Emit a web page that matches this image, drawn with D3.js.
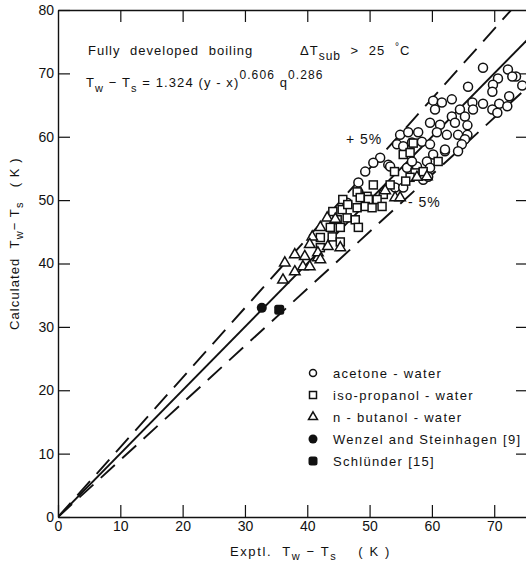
<!DOCTYPE html>
<html>
<head>
<meta charset="utf-8">
<script src="https://cdn.jsdelivr.net/npm/d3@7"></script>
<style>
  body { margin: 0; background: #fff; }
  svg text { font-family: "Liberation Sans", "DejaVu Sans", sans-serif; fill: #111; }
</style>
</head>
<body>
<svg id="chart" width="526" height="564"></svg>
<script>
// values, [exptl, calculated] in K
var acetone = [
  [73.5,69.5],[68.2,70.9],[72.2,70.6],[72.9,69.5],[74.5,68.1],[70.6,69.2],[69.8,68.2],
  [65.8,67.9],[69.7,67.1],[72.4,66.4],[70.8,65.2],[72.1,64.8],[69.7,64.3],[70.5,63.8],
  [68.2,65.2],[60.2,65.7],[61.6,65.4],[63.2,65.9],[60.5,64.3],[64.5,64.3],[66.5,65.4],
  [66.6,64.3],[65.3,63.2],[63.2,63.2],[59.7,62.2],[61.3,61.9],[63.7,62.2],[65.7,61.8],
  [60.8,60.7],[62.4,60.3],[64.2,60.3],[65.7,60.3],[65.3,59.6],[64.8,58.8],[62.1,57.7],
  [64.2,57.7],[54.9,60.3],[56.2,60.7],[57.8,60.7],[54.4,58.8],[55.4,58.5],[56.8,59.1],
  [58.4,59.2],[59.7,58.8],[62.1,58.0],[51.7,56.7],[50.6,55.9],[53.0,55.6],[49.3,54.5],
  [60.2,57.2],[59.2,56.1],[57.6,55.3],[56.0,55.1],[58.6,53.2],[59.4,53.7],[48.2,52.8],
  [54.1,52.0],[55.4,52.0],[53.3,55.3],[56.8,56.1],[59.7,55.1],[46.4,49.6],[48.2,51.3]
];
var isoPropanol = [
  [55.4,57.2],[56.5,57.5],[61.0,56.1],[57.3,54.3],[58.6,54.5],[56.5,53.6],[50.6,52.4],
  [53.3,52.4],[48.0,51.3],[49.6,50.6],[52.2,50.9],[51.2,50.1],[45.7,50.1],[48.5,50.4],
  [49.8,50.1],[44.1,48.2],[45.6,48.5],[46.5,49.3],[48.0,48.8],[49.3,49.0],[50.4,48.8],
  [44.8,46.9],[46.4,47.2],[47.7,46.9],[48.2,45.7],[43.7,45.7],[45.3,45.7],[42.1,44.1],
  [44.0,44.2],[45.3,43.4],[42.1,42.5],[54.0,54.5],[57.0,59.0],[55.8,53.0],[52.0,49.0]
];
var nButanol = [
  [54.1,50.4],[54.9,50.4],[59.2,53.7],[57.6,53.6],[43.2,47.2],[42.1,45.7],[40.8,44.2],
  [40.4,43.0],[43.3,42.7],[45.3,42.5],[39.6,41.1],[41.7,40.9],[39.3,39.5],[36.4,40.1],
  [38.0,41.4],[40.4,39.5],[38.0,38.7],[36.1,37.4],[41.7,41.7],[42.1,40.6],[44.5,47.0],
  [52.5,51.5]
];
var wenzel = [[32.7,33.0]];
var schlunder = [[35.5,32.7]];

// lines: calculated = factor * exptl
var lineFactors = [1.0, 1.1, 0.9];
var xTicks = [0,10,20,30,40,50,60,70];
var yTicks = [0,10,20,30,40,50,60,70,80];
var legendLabels = ["acetone - water", "iso-propanol - water", "n - butanol - water",
                    "Wenzel and Steinhagen [9]", "Schlünder [15]"];

var svg = d3.select("#chart");
var x = d3.scaleLinear().domain([0, 75.1]).range([58, 526]);
var y = d3.scaleLinear().domain([0, 80]).range([517, 10]);

function styleAxis(g) {
  g.selectAll("path.domain").attr("stroke", "#111").attr("stroke-width", 1.4);
  g.selectAll(".tick line").attr("stroke", "#111").attr("stroke-width", 1.2);
  g.selectAll("text").attr("font-size", 14).attr("fill", "#111")
    .attr("font-family", "Liberation Sans");
}

svg.append("g").attr("transform", "translate(0,517)")
  .call(d3.axisBottom(x).tickValues(xTicks).tickSize(-12).tickSizeOuter(0).tickPadding(4))
  .call(styleAxis);
svg.append("g").attr("transform", "translate(0,10)")
  .call(d3.axisTop(x).tickValues(xTicks.slice(1)).tickSize(-12).tickSizeOuter(0).tickFormat(""))
  .call(styleAxis);
svg.append("g").attr("transform", "translate(58,0)")
  .call(d3.axisLeft(y).tickValues(yTicks).tickSize(-12).tickSizeOuter(0).tickPadding(4))
  .call(styleAxis);
var right = svg.append("g").attr("transform", "translate(526,0)")
  .call(d3.axisRight(y).tickValues(yTicks.slice(1, 8)).tickSize(-10).tickFormat(""))
  .call(styleAxis);
right.select("path.domain").remove();

// reference lines
svg.append("clipPath").attr("id", "plot")
  .append("rect").attr("x", 58).attr("y", 10).attr("width", 468).attr("height", 507);
var lineGen = d3.line().x(d => x(d[0])).y(d => y(d[1]));
svg.append("g").attr("clip-path", "url(#plot)")
  .selectAll("path").data(lineFactors).enter().append("path")
  .attr("d", f => lineGen([[0, 0], [80, 80 * f]]))
  .attr("fill", "none").attr("stroke", "#111").attr("stroke-width", 1.9)
  .attr("stroke-dasharray", f => f === 1 ? null : "19,10");

// markers
var pts = svg.append("g");
pts.selectAll("circle.ac").data(acetone).enter().append("circle")
  .attr("cx", d => x(d[0])).attr("cy", d => y(d[1])).attr("r", 4.5)
  .attr("fill", "#fff").attr("stroke", "#111").attr("stroke-width", 1.5);
pts.selectAll("rect.ip").data(isoPropanol).enter().append("rect")
  .attr("x", d => x(d[0]) - 4).attr("y", d => y(d[1]) - 4).attr("width", 8).attr("height", 8)
  .attr("fill", "#fff").attr("stroke", "#111").attr("stroke-width", 1.5);
var tri = d3.symbol().type(d3.symbolTriangle).size(48);
pts.selectAll("path.nb").data(nButanol).enter().append("path")
  .attr("d", tri).attr("transform", d => "translate(" + x(d[0]) + "," + y(d[1]) + ")")
  .attr("fill", "#fff").attr("stroke", "#111").attr("stroke-width", 1.5);
pts.selectAll("circle.wz").data(wenzel).enter().append("circle")
  .attr("cx", d => x(d[0])).attr("cy", d => y(d[1])).attr("r", 5).attr("fill", "#111");
pts.selectAll("rect.sc").data(schlunder).enter().append("rect")
  .attr("x", d => x(d[0]) - 5).attr("y", d => y(d[1]) - 5).attr("width", 10).attr("height", 10)
  .attr("rx", 2.5).attr("fill", "#111");

// annotations
var t1 = svg.append("text").attr("x", 88).attr("y", 55).attr("font-size", 13)
  .attr("letter-spacing", 1).attr("word-spacing", 5);
t1.append("tspan").text("Fully developed boiling");
t1.append("tspan").attr("x", 300).text("ΔT");
t1.append("tspan").attr("dy", 5).attr("font-size", 12).text("sub");
t1.append("tspan").attr("dy", -5).text(" > 25 ");
t1.append("tspan").attr("dy", -5).attr("font-size", 10).text("°");
t1.append("tspan").attr("dy", 5).text("C");

var t2 = svg.append("text").attr("x", 86).attr("y", 87).attr("font-size", 13).attr("letter-spacing", 1.1);
t2.append("tspan").text("T");
t2.append("tspan").attr("dy", 5).attr("font-size", 11).text("w");
t2.append("tspan").attr("dy", -5).text(" − T");
t2.append("tspan").attr("dy", 5).attr("font-size", 11).text("s");
t2.append("tspan").attr("dy", -5).text(" = 1.324 (y - x)");
t2.append("tspan").attr("dy", -8).attr("font-size", 12).text("0.606");
t2.append("tspan").attr("dy", 8).text(" q");
t2.append("tspan").attr("dy", -8).attr("font-size", 12).text("0.286");

svg.append("text").attr("x", 346).attr("y", 144).attr("font-size", 14).attr("letter-spacing", 1).text("+ 5%");
svg.append("text").attr("x", 408).attr("y", 207).attr("font-size", 14).attr("letter-spacing", 1).text("- 5%");

// axis titles
var xt = svg.append("text").attr("x", 230).attr("y", 556).attr("font-size", 13)
  .attr("letter-spacing", 1.6).attr("xml:space", "preserve");
xt.append("tspan").text("Exptl.  T");
xt.append("tspan").attr("dy", 4).attr("font-size", 11).text("w");
xt.append("tspan").attr("dy", -4).text(" − T");
xt.append("tspan").attr("dy", 4).attr("font-size", 11).text("s");
xt.append("tspan").attr("dy", -4).text("    ( K )");

var yt = svg.append("text").attr("transform", "translate(19,330) rotate(-90)")
  .attr("font-size", 13).attr("letter-spacing", 1.1).attr("xml:space", "preserve");
yt.append("tspan").text("Calculated  T");
yt.append("tspan").attr("dy", 4).attr("font-size", 11).text("w");
yt.append("tspan").attr("dy", -4).text("− T");
yt.append("tspan").attr("dy", 4).attr("font-size", 11).text("s");
yt.append("tspan").attr("dy", -4).text("   ( K )");

// legend
var rows = svg.append("g").selectAll("g").data(legendLabels).enter().append("g")
  .attr("transform", (d, i) => "translate(313," + (373 + i * 22) + ")");
rows.append("text").attr("x", 20).attr("y", 5).attr("font-size", 13).attr("letter-spacing", 1.3)
  .text(d => d);
rows.each(function(d, i) {
  var g = d3.select(this);
  if (i === 0) g.append("circle").attr("r", 3.5).attr("fill", "#fff").attr("stroke", "#111").attr("stroke-width", 1.5);
  if (i === 1) g.append("rect").attr("x", -3.5).attr("y", -3.5).attr("width", 7).attr("height", 7)
    .attr("fill", "#fff").attr("stroke", "#111").attr("stroke-width", 1.5);
  if (i === 2) g.append("path").attr("d", d3.symbol().type(d3.symbolTriangle).size(35))
    .attr("fill", "#fff").attr("stroke", "#111").attr("stroke-width", 1.5);
  if (i === 3) g.append("circle").attr("r", 4.5).attr("fill", "#111");
  if (i === 4) g.append("rect").attr("x", -4.5).attr("y", -4.5).attr("width", 9).attr("height", 9)
    .attr("rx", 2.5).attr("fill", "#111");
});
</script>
</body>
</html>
